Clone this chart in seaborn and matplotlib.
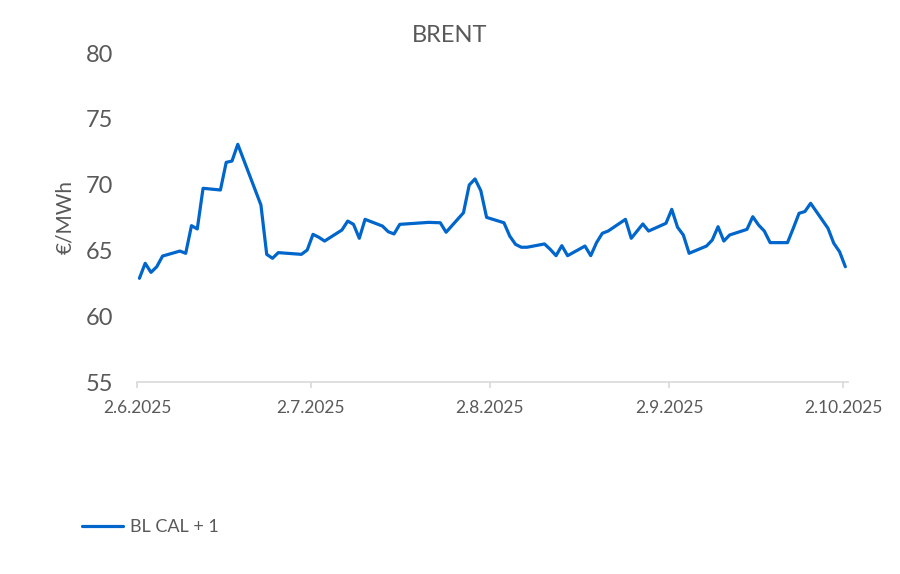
import pandas as pd
import matplotlib
matplotlib.use("Agg")
import matplotlib.pyplot as plt
import matplotlib.dates as mdates
import seaborn as sns

# data
dates = [
    "2025-06-02", "2025-06-03", "2025-06-04", "2025-06-05", "2025-06-06",
    "2025-06-09", "2025-06-10", "2025-06-11", "2025-06-12", "2025-06-13",
    "2025-06-16", "2025-06-17", "2025-06-18", "2025-06-19",
    "2025-06-23", "2025-06-24", "2025-06-25", "2025-06-26",
    "2025-06-30", "2025-07-01", "2025-07-02", "2025-07-03", "2025-07-04",
    "2025-07-07", "2025-07-08", "2025-07-09", "2025-07-10", "2025-07-11",
    "2025-07-14", "2025-07-15", "2025-07-16", "2025-07-17",
    "2025-07-21", "2025-07-22", "2025-07-24", "2025-07-25",
    "2025-07-28", "2025-07-29", "2025-07-30", "2025-07-31", "2025-08-01",
    "2025-08-04", "2025-08-05", "2025-08-06", "2025-08-07", "2025-08-08",
    "2025-08-11", "2025-08-12", "2025-08-13", "2025-08-14", "2025-08-15",
    "2025-08-18", "2025-08-19", "2025-08-20", "2025-08-21", "2025-08-22",
    "2025-08-25", "2025-08-26", "2025-08-28", "2025-08-29",
    "2025-09-01", "2025-09-02", "2025-09-03", "2025-09-04", "2025-09-05",
    "2025-09-08", "2025-09-09", "2025-09-10", "2025-09-11", "2025-09-12",
    "2025-09-15", "2025-09-16", "2025-09-17", "2025-09-18", "2025-09-19",
    "2025-09-22", "2025-09-23", "2025-09-24", "2025-09-25", "2025-09-26",
    "2025-09-29", "2025-09-30", "2025-10-01", "2025-10-02",
]
prices = [
    62.88, 64.02, 63.33, 63.76, 64.57,
    64.95, 64.78, 66.88, 66.63, 69.72,
    69.59, 71.69, 71.79, 73.06,
    68.45, 64.70, 64.40, 64.83,
    64.70, 65.03, 66.22, 66.00, 65.71,
    66.55, 67.23, 66.98, 65.92, 67.36,
    66.85, 66.42, 66.25, 66.98,
    67.10, 67.13, 67.10, 66.38,
    67.86, 69.97, 70.43, 69.54, 67.51,
    67.10, 66.09, 65.46, 65.24, 65.24,
    65.49, 65.08, 64.60, 65.36, 64.60,
    65.33, 64.60, 65.59, 66.30, 66.47,
    67.36, 65.92, 67.01, 66.47,
    67.06, 68.12, 66.76, 66.17, 64.78,
    65.33, 65.79, 66.80, 65.71, 66.17,
    66.60, 67.56, 66.93, 66.47, 65.59,
    65.59, 66.68, 67.82, 67.95, 68.58,
    66.68, 65.54, 64.90, 63.76,
]
series_name = "BL CAL + 1"
chart_title = "BRENT"
y_label = "€/MWh"
tick_dates = ["2025-06-02", "2025-07-02", "2025-08-02", "2025-09-02", "2025-10-02"]

# Excel draws each day's point inside the day, ticks at day start
df = pd.DataFrame({"date": pd.to_datetime(dates) + pd.Timedelta(hours=10),
                   "price": prices, "series": series_name})

sns.set_theme(style="white")
plt.rcParams["font.family"] = ["Lato", "DejaVu Sans"]
grey = "#595959"
blue = "#0066CC"

fig = plt.figure(figsize=(9, 5.74), dpi=100)
ax = fig.add_axes([137 / 900, 1 - 382 / 574, 711 / 900, 329 / 574])

sns.lineplot(data=df, x="date", y="price", hue="series", palette=[blue],
             linewidth=2.3, ax=ax, legend=False)

ticks = pd.to_datetime(tick_dates)
ax.set_xlim(ticks[0], ticks[-1] + pd.Timedelta(hours=21))
ax.set_ylim(55, 80)
ax.set_yticks(range(55, 81, 5))
ax.set_xticks(ticks)
ax.xaxis.set_major_formatter(
    plt.FuncFormatter(lambda v, p: "{d.day}.{d.month}.{d.year}".format(d=mdates.num2date(v))))

for s in ["top", "right", "left"]:
    ax.spines[s].set_visible(False)
ax.spines["bottom"].set_color("#d9d9d9")
ax.spines["bottom"].set_linewidth(1.2)

ax.tick_params(axis="y", length=0, pad=17, labelsize=17, labelcolor=grey)
ax.tick_params(axis="x", length=4, width=1.2, color="#d9d9d9", pad=9,
               labelsize=12.5, labelcolor=grey, bottom=True)

ax.set_xlabel("")
ax.set_ylabel(y_label, fontsize=15, color=grey)
ax.yaxis.set_label_coords(-62 / 711, 0.5)

fig.text(0.5, 1 - 35 / 574, chart_title, ha="center", va="center", fontsize=17, color=grey)

handle = plt.Line2D([], [], color=blue, linewidth=2.3)
fig.legend([handle], [series_name], loc="center left", bbox_to_anchor=(0.091, 1 - 527 / 574),
           frameon=False, fontsize=13, labelcolor=grey, handlelength=2.25,
           handletextpad=0.4, borderaxespad=0, borderpad=0)

fig.savefig("out.png", dpi=100)
